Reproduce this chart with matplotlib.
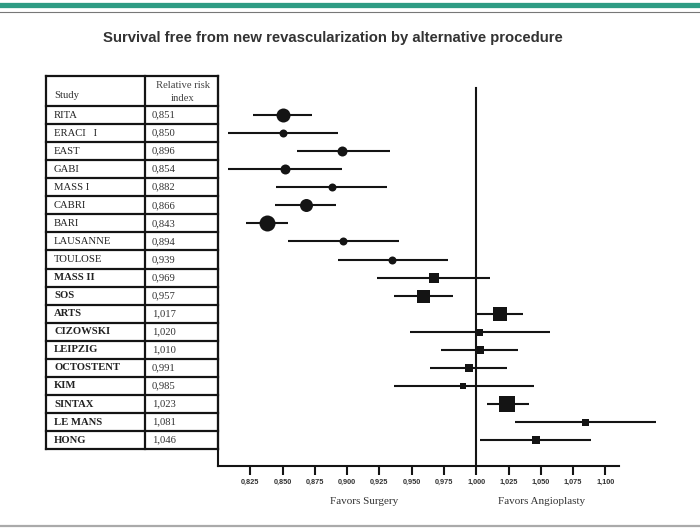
import matplotlib
matplotlib.use("Agg")
import matplotlib.pyplot as plt
from matplotlib.lines import Line2D

# --- data ---
studies = ["RITA", "ERACI   I", "EAST", "GABI", "MASS I", "CABRI", "BARI",
           "LAUSANNE", "TOULOSE", "MASS II", "SOS", "ARTS", "CIZOWSKI",
           "LEIPZIG", "OCTOSTENT", "KIM", "SINTAX", "LE MANS", "HONG"]
rr_text = ["0,851", "0,850", "0,896", "0,854", "0,882", "0,866", "0,843",
           "0,894", "0,939", "0,969", "0,957", "1,017", "1,020", "1,010",
           "0,991", "0,985", "1,023", "1,081", "1,046"]
# plotted point estimate and confidence limits
est = [0.850, 0.850, 0.896, 0.852, 0.888, 0.868, 0.838, 0.897, 0.935,
       0.967, 0.959, 1.018, 1.002, 1.003, 0.994, 0.990, 1.024, 1.084, 1.046]
lo = [0.827, 0.808, 0.861, 0.808, 0.845, 0.844, 0.822, 0.854, 0.893,
      0.923, 0.936, 1.000, 0.949, 0.973, 0.964, 0.936, 1.008, 1.030, 1.003]
hi = [0.873, 0.893, 0.933, 0.896, 0.931, 0.891, 0.854, 0.940, 0.978,
      1.011, 0.982, 1.036, 1.057, 1.032, 1.024, 1.045, 1.041, 1.139, 1.089]
weight_px = [14, 8, 10, 10, 8, 13, 16, 8, 8,
             10, 13, 14, 7, 8, 8.5, 6.5, 16, 7, 7.5]
n_circle = 9  # first group drawn as circles, second as squares
xticks = [0.825, 0.850, 0.875, 0.900, 0.925, 0.950, 0.975,
          1.000, 1.025, 1.050, 1.075, 1.100]

W, H = 700, 528
DARK = "#141414"
SERIF = ["Liberation Serif", "DejaVu Serif"]
SANS = ["Liberation Sans", "DejaVu Sans"]

fig = plt.figure(figsize=(W / 100, H / 100), dpi=100)

def px_rect(x0, y0, x1, y1):
    """pixel box (top-left origin) -> figure fraction rect"""
    return [x0 / W, 1 - y1 / H, (x1 - x0) / W, (y1 - y0) / H]

# decorative page lines
fig.add_artist(Line2D([0, 1], [1 - 4.5 / H] * 2, color="#2e9c84", lw=3.8))
fig.add_artist(Line2D([0, 1], [1 - 12 / H] * 2, color="#777777", lw=0.8))
fig.add_artist(Line2D([0, 1], [1 - 525.5 / H] * 2, color="#aaaaaa", lw=1.6))

fig.text(333 / W, 1 - 38 / H,
         "Survival free from new revascularization by alternative procedure",
         ha="center", va="center", fontsize=10.7, fontweight="bold",
         family=SANS, color="#333333")

# --- forest plot axes ---
y_top, y_bot = -2.16, 19.43
ax = fig.add_axes(px_rect(218, 76, 619, 466))
ax.set_xlim(0.800, 1.1105)
ax.set_ylim(y_bot, y_top)

ax.plot([1.0, 1.0], [-1.5, y_bot], color=DARK, lw=1.5, zorder=1)
for i in range(len(studies)):
    ax.plot([lo[i], hi[i]], [i, i], color=DARK, lw=1.5, solid_capstyle="butt",
            clip_on=False, zorder=2)
    ax.plot(est[i], i, marker="o" if i < n_circle else "s",
            markersize=weight_px[i] * 0.72, color=DARK, mec=DARK, mew=0,
            clip_on=False, zorder=3)

for s in ["top", "right"]:
    ax.spines[s].set_visible(False)
for s in ["left", "bottom"]:
    ax.spines[s].set_linewidth(1.5)
    ax.spines[s].set_color(DARK)
ax.set_yticks([])
ax.set_xticks(xticks)
ax.set_xticklabels([f"{t:.3f}".replace(".", ",") for t in xticks])
ax.tick_params(axis="x", direction="out", length=6.5, width=1.5, color=DARK,
               pad=3, labelsize=5.3, labelcolor="#333333")
for lab in ax.get_xticklabels():
    lab.set_fontweight("bold")
    lab.set_family(SANS)

fig.text(364 / W, 1 - 502 / H, "Favors Surgery", ha="center", va="center",
         fontsize=8, family=SERIF, color="#333333")
fig.text(542 / W, 1 - 502 / H, "Favors Angioplasty", ha="center", va="center",
         fontsize=8, family=SERIF, color="#333333")

# --- study table ---
tx = fig.add_axes(px_rect(46, 76, 218, 466), sharey=ax)
tx.set_xlim(0, 1)
tx.axis("off")
split = 0.578
n = len(studies)
row_edges = [-0.5 + k for k in range(n + 1)]
for yv in [y_top] + row_edges:
    tx.plot([0, 1], [yv, yv], color=DARK, lw=1.6, clip_on=False)
for xv in [0, split, 1]:
    tx.plot([xv, xv], [y_top, n - 0.5], color=DARK, lw=1.6, clip_on=False)

tx.text(0.047, -1.07, "Study", ha="left", va="center", fontsize=7.7,
        family=SERIF, color="#333333")
tx.text(0.795, -1.66, "Relative risk", ha="center", va="center", fontsize=7.7,
        family=SERIF, color="#444444")
tx.text(0.795, -0.94, "index", ha="center", va="center", fontsize=7.7,
        family=SERIF, color="#444444")
for i, (name, val) in enumerate(zip(studies, rr_text)):
    tx.text(0.047, i, name, ha="left", va="center", fontsize=7.7, family=SERIF,
            fontweight="normal" if i < n_circle else "bold", color="#222222")
    tx.text(0.616, i, val, ha="left", va="center", fontsize=7.7, family=SERIF,
            color="#333333")

fig.savefig("out.png", dpi=100)
